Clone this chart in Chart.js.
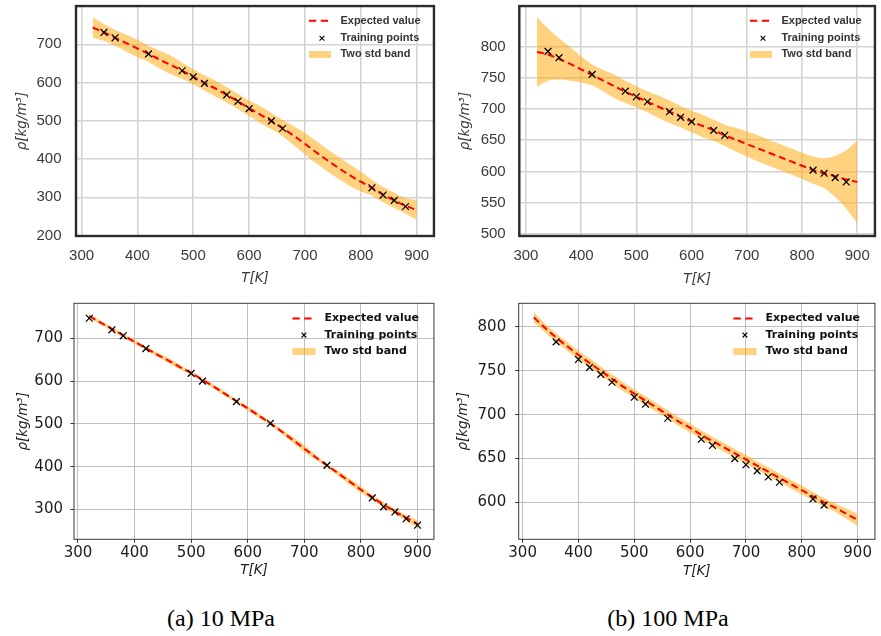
<!DOCTYPE html>
<html><head><meta charset="utf-8">
<script src="https://cdn.jsdelivr.net/npm/chart.js@4.4.0/dist/chart.umd.min.js"></script>
<style>
html,body{margin:0;padding:0;background:#fff;width:881px;height:636px;overflow:hidden;position:relative}
canvas{position:absolute}
.cap{position:absolute;font-family:"Liberation Serif","Times New Roman",serif;font-size:24px;line-height:24px;white-space:nowrap;color:#000;transform:translateX(-50%)}
</style></head><body>
<canvas id="cA" width="440" height="290" style="left:0;top:0"></canvas>
<canvas id="cB" width="441" height="290" style="left:440px;top:0"></canvas>
<canvas id="cC" width="440" height="300" style="left:0;top:290px"></canvas>
<canvas id="cD" width="441" height="300" style="left:440px;top:290px"></canvas>
<div class="cap" style="left:221px;top:606px">(a) 10 MPa</div>
<div class="cap" style="left:668px;top:606px">(b) 100 MPa</div>
<script>
// ---------- shared ----------
const curveT = [320,340,360,380,400,420,440,460,480,500,520,540,560,580,600,620,640,660,680,700,720,740,760,780,800,820,840,860,880,900];
const xTicks = [300,400,500,600,700,800,900];
const legendLabels = ['Expected value','Training points','Two std band'];
const captions = ['(a) 10 MPa','(b) 100 MPa'];

// ---------- A: 10 MPa, top ----------
const trainT_A = [340,360,420,480,500,520,560,580,600,640,660,820,840,860,880];
const trainRho_A = [731,717,675,631,615,598,568,551,532,500,480,325,306,292,276];
const mean_A = [744,731,717,703,689,675,660,646,631,615,599,584,568,551,533,516,499,481,461,440,418,397,377,358,341,325,307,292,278,267];
const upper_A = [771,753,738,725,712,696,683,670,652,635,619,605,588,571,553,538,520,502,486,468,447,426,406,386,367,346,327,312,298,293];
const lower_A = [717,709,696,681,666,654,637,622,610,595,579,563,548,531,513,494,478,460,436,412,389,368,348,330,315,304,287,272,258,241];
const yTicks_A = [200,300,400,500,600,700];

// ---------- B: 100 MPa, top ----------
const trainT_B = [340,360,420,480,500,520,560,580,600,640,660,820,840,860,880];
const trainRho_B = [793,783,756,729,720,712,696,687,680,666,658,602,597,590,583];
const mean_B = [792,788,781,773,764,755,746,737,728,720,712,704,696,688,680,673,666,658,651,644,637,630,623,616,609,602,597,592,587,583];
const upper_B = [848,830,814,800,785,772,763,756,746,737,729,722,714,705,697,691,683,675,670,664,658,651,644,637,630,624,621,625,634,650];
const lower_B = [736,746,748,746,743,738,729,718,710,703,695,686,678,671,663,655,649,641,632,624,616,609,602,595,588,580,573,559,540,516];
const yTicks_B = [500,550,600,650,700,750,800];

// ---------- C: 10 MPa, bottom ----------
const trainT_C = [320,360,380,420,500,520,580,640,740,820,840,860,880,900];
const trainRho_C = [747,720,706,676,618,600,552,501,403,327,306,294,278,263];
const mean_C = [752,737,722,707,692,677,662,648,633,619,603,587,570,553,536,519,501,482,462,442,422,403,384,365,346,328,311,295,280,266];
const upper_C = [756,742,726,711,697,681,667,654,638,623,607,592,575,557,541,524,505,487,469,450,428,407,390,372,353,334,317,301,287,275];
const lower_C = [748,732,718,703,687,673,657,642,628,615,599,582,565,549,531,514,497,477,455,434,416,399,378,358,339,322,305,289,273,257];
const yTicks_C = [300,400,500,600,700];

// ---------- D: 100 MPa, bottom ----------
const trainT_D = [360,400,420,440,460,500,520,560,620,640,680,700,720,740,760,820,840];
const trainRho_D = [783,763,754,746,737,720,712,696,672,665,650,643,636,629,623,604,597];
const mean_D = [811,799,788,778,768,759,750,741,732,724,716,708,700,692,685,677,670,663,656,649,642,635,628,621,614,607,600,594,587,580];
const upper_D = [817,804,793,783,773,764,755,746,737,729,721,713,705,697,690,682,675,668,661,654,647,640,633,626,619,612,605,599,593,587];
const lower_D = [805,794,783,773,763,754,745,736,727,719,711,703,695,687,680,672,665,658,651,644,637,630,623,616,609,602,595,589,581,573];
const yTicks_D = [600,650,700,750,800];

// ---------- helpers ----------
const pts = (xs, ys) => xs.map((x, i) => ({x: x, y: ys[i]}));
const BAND = 'rgba(255,165,0,0.5)';

const framePlugin = {
  id: 'frame',
  afterDatasetsDraw(chart, args, o) {
    const {ctx, chartArea: a} = chart;
    ctx.save();
    ctx.strokeStyle = o.color; ctx.lineWidth = o.width;
    ctx.strokeRect(a.left, a.top, a.right - a.left, a.bottom - a.top);
    ctx.restore();
  }
};

const legendPlugin = {
  id: 'mplLegend',
  afterDraw(chart, args, o) {
    const {ctx, chartArea: a} = chart;
    const lx = a.right - o.lineFromRight, tx = a.right - o.textFromRight;
    const ys = o.rows.map(r => a.top + r);
    ctx.save();
    ctx.strokeStyle = '#ff0000'; ctx.lineWidth = 2; ctx.setLineDash([7.3, 4.5]);
    ctx.beginPath(); ctx.moveTo(lx, ys[0]); ctx.lineTo(lx + 20, ys[0]); ctx.stroke();
    ctx.setLineDash([]);
    const mx = lx + o.markerDx, my = ys[1], s = 2.4;
    ctx.strokeStyle = '#000'; ctx.lineWidth = 1.1;
    ctx.beginPath(); ctx.moveTo(mx - s, my - s); ctx.lineTo(mx + s, my + s);
    ctx.moveTo(mx - s, my + s); ctx.lineTo(mx + s, my - s); ctx.stroke();
    ctx.fillStyle = BAND; ctx.fillRect(lx, ys[2] - 3.5, o.patchW, 7);
    ctx.fillStyle = o.color; ctx.font = o.font; ctx.textBaseline = 'middle'; ctx.textAlign = 'left';
    legendLabels.forEach((t, i) => ctx.fillText(t, tx, ys[i]));
    ctx.restore();
  }
};

function zeroPad(s) { s.paddingTop = 0; s.paddingBottom = 0; s.paddingLeft = 0; s.paddingRight = 0; }

function makeChart(id, c) {
  const sea = c.sea;
  const tickColor = sea ? '#3a3a3a' : '#1c1c1c';
  const tickFont = {family: sea ? 'Liberation Sans' : 'DejaVu Sans', size: 15};
  const titleFont = {family: 'DejaVu Sans', style: 'italic', size: 13.5};
  const grid = sea
    ? {color: '#d4d4d4', lineWidth: 1.6, drawTicks: false}
    : {color: '#b8b8b8', lineWidth: 0.9, drawTicks: true, tickLength: 3.5, tickColor: '#333', tickWidth: 1};
  new Chart(document.getElementById(id), {
    type: 'line',
    data: {
      datasets: [
        {label: 'Training points', data: pts(c.tT, c.tR), showLine: false, pointStyle: 'crossRot',
         pointRadius: 4.8, pointBorderColor: '#000', pointBackgroundColor: '#000', pointBorderWidth: 1.25, order: 0},
        {label: 'Expected value', data: pts(curveT, c.mean), borderColor: '#ff0000', borderWidth: 2,
         borderDash: [7, 4], pointRadius: 0, fill: false, cubicInterpolationMode: 'monotone', order: 1},
        {label: 'band upper', data: pts(curveT, c.up), borderColor: 'transparent', borderWidth: 0, pointRadius: 0,
         fill: '+1', backgroundColor: BAND, cubicInterpolationMode: 'monotone', order: 2},
        {label: 'band lower', data: pts(curveT, c.lo), borderColor: 'transparent', borderWidth: 0, pointRadius: 0,
         fill: false, cubicInterpolationMode: 'monotone', order: 3}
      ]
    },
    options: {
      responsive: false, animation: false, devicePixelRatio: 1, events: [],
      layout: {padding: {left: 0, top: c.padT, right: c.padR, bottom: 0}},
      plugins: {
        legend: {display: false}, tooltip: {enabled: false},
        frame: {color: sea ? '#2b2b2b' : '#3a3a3a', width: sea ? 2.4 : 1},
        mplLegend: c.legend
      },
      scales: {
        x: {
          type: 'linear', min: c.xMin, max: c.xMax,
          afterBuildTicks: s => { s.ticks = xTicks.map(v => ({value: v})); },
          afterFit: s => { s.height = c.xH; zeroPad(s); },
          grid: grid, border: {display: false},
          ticks: {color: tickColor, font: tickFont, padding: c.xTickPad, maxRotation: 0, autoSkip: false},
          title: {display: true, text: 'T[K]', color: tickColor, font: titleFont, padding: {top: 0, bottom: c.xTitlePad}}
        },
        y: {
          type: 'linear', min: c.yMin, max: c.yMax,
          afterBuildTicks: s => { s.ticks = c.yTicks.map(v => ({value: v})); },
          afterFit: s => { s.width = c.yW; zeroPad(s); },
          grid: grid, border: {display: false},
          ticks: {color: tickColor, font: tickFont, padding: c.yTickPad, autoSkip: false},
          title: {display: true, text: 'ρ[kg/m³]', color: tickColor, font: titleFont, padding: {top: c.yTitlePad, bottom: 0}}
        }
      }
    },
    plugins: [framePlugin, legendPlugin]
  });
}

const topLegend = {lineFromRight: 125, textFromRight: 93.5, markerDx: 13, patchW: 22, rows: [14.7, 32.2, 48.4],
  font: 'bold 11px "Liberation Sans", Arial, sans-serif', color: '#333'};
const botLegend = {lineFromRight: 141.5, textFromRight: 109.5, markerDx: 11.5, patchW: 23, rows: [15.2, 31.8, 48.2],
  font: 'bold 11px "DejaVu Sans", sans-serif', color: '#111'};

makeChart('cA', {sea: true, tT: trainT_A, tR: trainRho_A, mean: mean_A, up: upper_A, lo: lower_A, yTicks: yTicks_A,
  xMin: 290, xMax: 931, yMin: 199, yMax: 800, padT: 2, padR: 4, xH: 54, yW: 76,
  xTickPad: 11, yTickPad: 14.5, xTitlePad: 3, yTitlePad: 14, legend: topLegend});
makeChart('cB', {sea: true, tT: trainT_B, tR: trainRho_B, mean: mean_B, up: upper_B, lo: lower_B, yTicks: yTicks_B,
  xMin: 288, xMax: 932, yMin: 496, yMax: 866, padT: 2, padR: 1.5, xH: 54, yW: 79.3,
  xTickPad: 11, yTickPad: 13.6, xTitlePad: 2.5, yTitlePad: 17, legend: topLegend});
makeChart('cC', {sea: false, tT: trainT_C, tR: trainRho_C, mean: mean_C, up: upper_C, lo: lower_C, yTicks: yTicks_C,
  xMin: 293, xMax: 929, yMin: 230, yMax: 782, padT: 13.3, padR: 4, xH: 50.7, yW: 74,
  xTickPad: 1.5, yTickPad: 7.5, xTitlePad: 11.5, yTitlePad: 15, legend: botLegend});
makeChart('cD', {sea: false, tT: trainT_D, tR: trainRho_D, mean: mean_D, up: upper_D, lo: lower_D, yTicks: yTicks_D,
  xMin: 293, xMax: 931, yMin: 558, yMax: 827, padT: 13.3, padR: 0.5, xH: 50.7, yW: 78.7,
  xTickPad: 1.5, yTickPad: 9, xTitlePad: 10, yTitlePad: 15, legend: botLegend});
</script>
</body></html>
